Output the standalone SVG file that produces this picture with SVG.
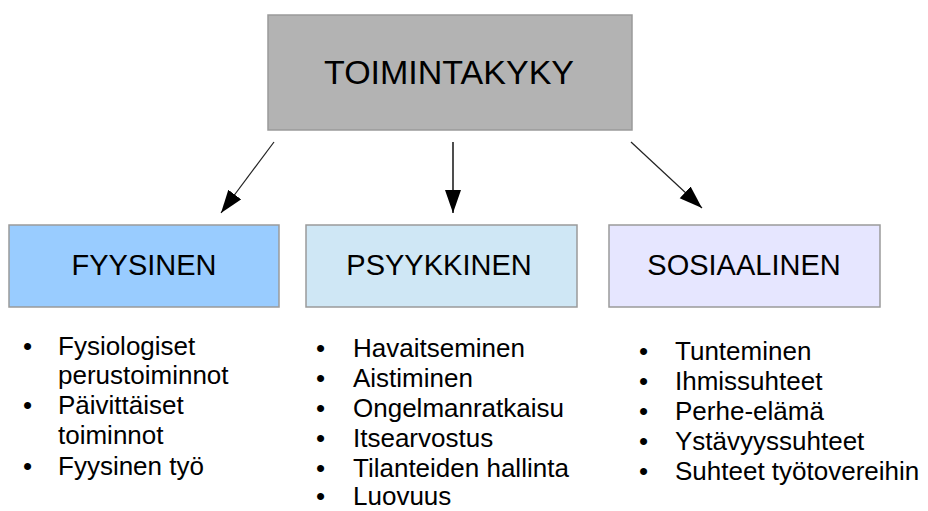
<svg xmlns="http://www.w3.org/2000/svg" width="928" height="511" viewBox="0 0 928 511">
<style>
text{font-family:"Liberation Sans",Arial,sans-serif;fill:#000}
.box{stroke:#9a9a9a;stroke-width:1.5}
.title{font-size:34px;text-anchor:middle}
.lbl{font-size:29px;text-anchor:middle}
.li{font-size:26px}
.conn{stroke:#222;stroke-width:1.2;fill:none}
</style>
<defs>
<marker id="ah" markerUnits="userSpaceOnUse" markerWidth="25" markerHeight="18" refX="23" refY="8" orient="auto">
<path d="M0,0 L23,8 L0,16 z" fill="#000"/>
</marker>
</defs>
<rect width="928" height="511" fill="#fff"/>
<g id="node-toimintakyky">
<rect class="box" x="268" y="15" width="364" height="115" fill="#b3b3b3"/>
<text class="title" x="449" y="84">TOIMINTAKYKY</text>
</g>
<g id="connectors">
<line class="conn" x1="274" y1="142" x2="221" y2="213" marker-end="url(#ah)"/>
<line class="conn" x1="453" y1="142" x2="453" y2="213" marker-end="url(#ah)" style="stroke-width:1.6"/>
<line class="conn" x1="631" y1="142" x2="702" y2="208" marker-end="url(#ah)"/>
</g>
<g id="node-fyysinen">
<rect class="box" x="9" y="225" width="270" height="82" fill="#99ccff"/>
<text class="lbl" x="144" y="275">FYYSINEN</text>
</g>
<g id="node-psyykkinen">
<rect class="box" x="306" y="225" width="271" height="82" fill="#cfe7f5"/>
<text class="lbl" x="439" y="275">PSYYKKINEN</text>
</g>
<g id="node-sosiaalinen">
<rect class="box" x="609" y="225" width="271" height="82" fill="#e6e6ff"/>
<text class="lbl" x="744" y="275">SOSIAALINEN</text>
</g>
<g id="list-fyysinen">
<text class="li" x="23" y="355">•</text><text class="li" x="58" y="355">Fysiologiset</text>
<text class="li" x="58" y="384">perustoiminnot</text>
<text class="li" x="23" y="414">•</text><text class="li" x="58" y="414">Päivittäiset</text>
<text class="li" x="58" y="444">toiminnot</text>
<text class="li" x="23" y="475">•</text><text class="li" x="58" y="475">Fyysinen työ</text>
</g>
<g id="list-psyykkinen">
<text class="li" x="316" y="357">•</text><text class="li" x="353" y="357">Havaitseminen</text>
<text class="li" x="316" y="387">•</text><text class="li" x="353" y="387">Aistiminen</text>
<text class="li" x="316" y="417">•</text><text class="li" x="353" y="417">Ongelmanratkaisu</text>
<text class="li" x="316" y="447">•</text><text class="li" x="353" y="447">Itsearvostus</text>
<text class="li" x="316" y="477">•</text><text class="li" x="353" y="477">Tilanteiden hallinta</text>
<text class="li" x="316" y="505">•</text><text class="li" x="353" y="505">Luovuus</text>
</g>
<g id="list-sosiaalinen">
<text class="li" x="639" y="360">•</text><text class="li" x="675" y="360">Tunteminen</text>
<text class="li" x="639" y="390">•</text><text class="li" x="675" y="390">Ihmissuhteet</text>
<text class="li" x="639" y="420">•</text><text class="li" x="675" y="420">Perhe-elämä</text>
<text class="li" x="639" y="450">•</text><text class="li" x="675" y="450">Ystävyyssuhteet</text>
<text class="li" x="639" y="480">•</text><text class="li" x="675" y="480">Suhteet työtovereihin</text>
</g>
</svg>
